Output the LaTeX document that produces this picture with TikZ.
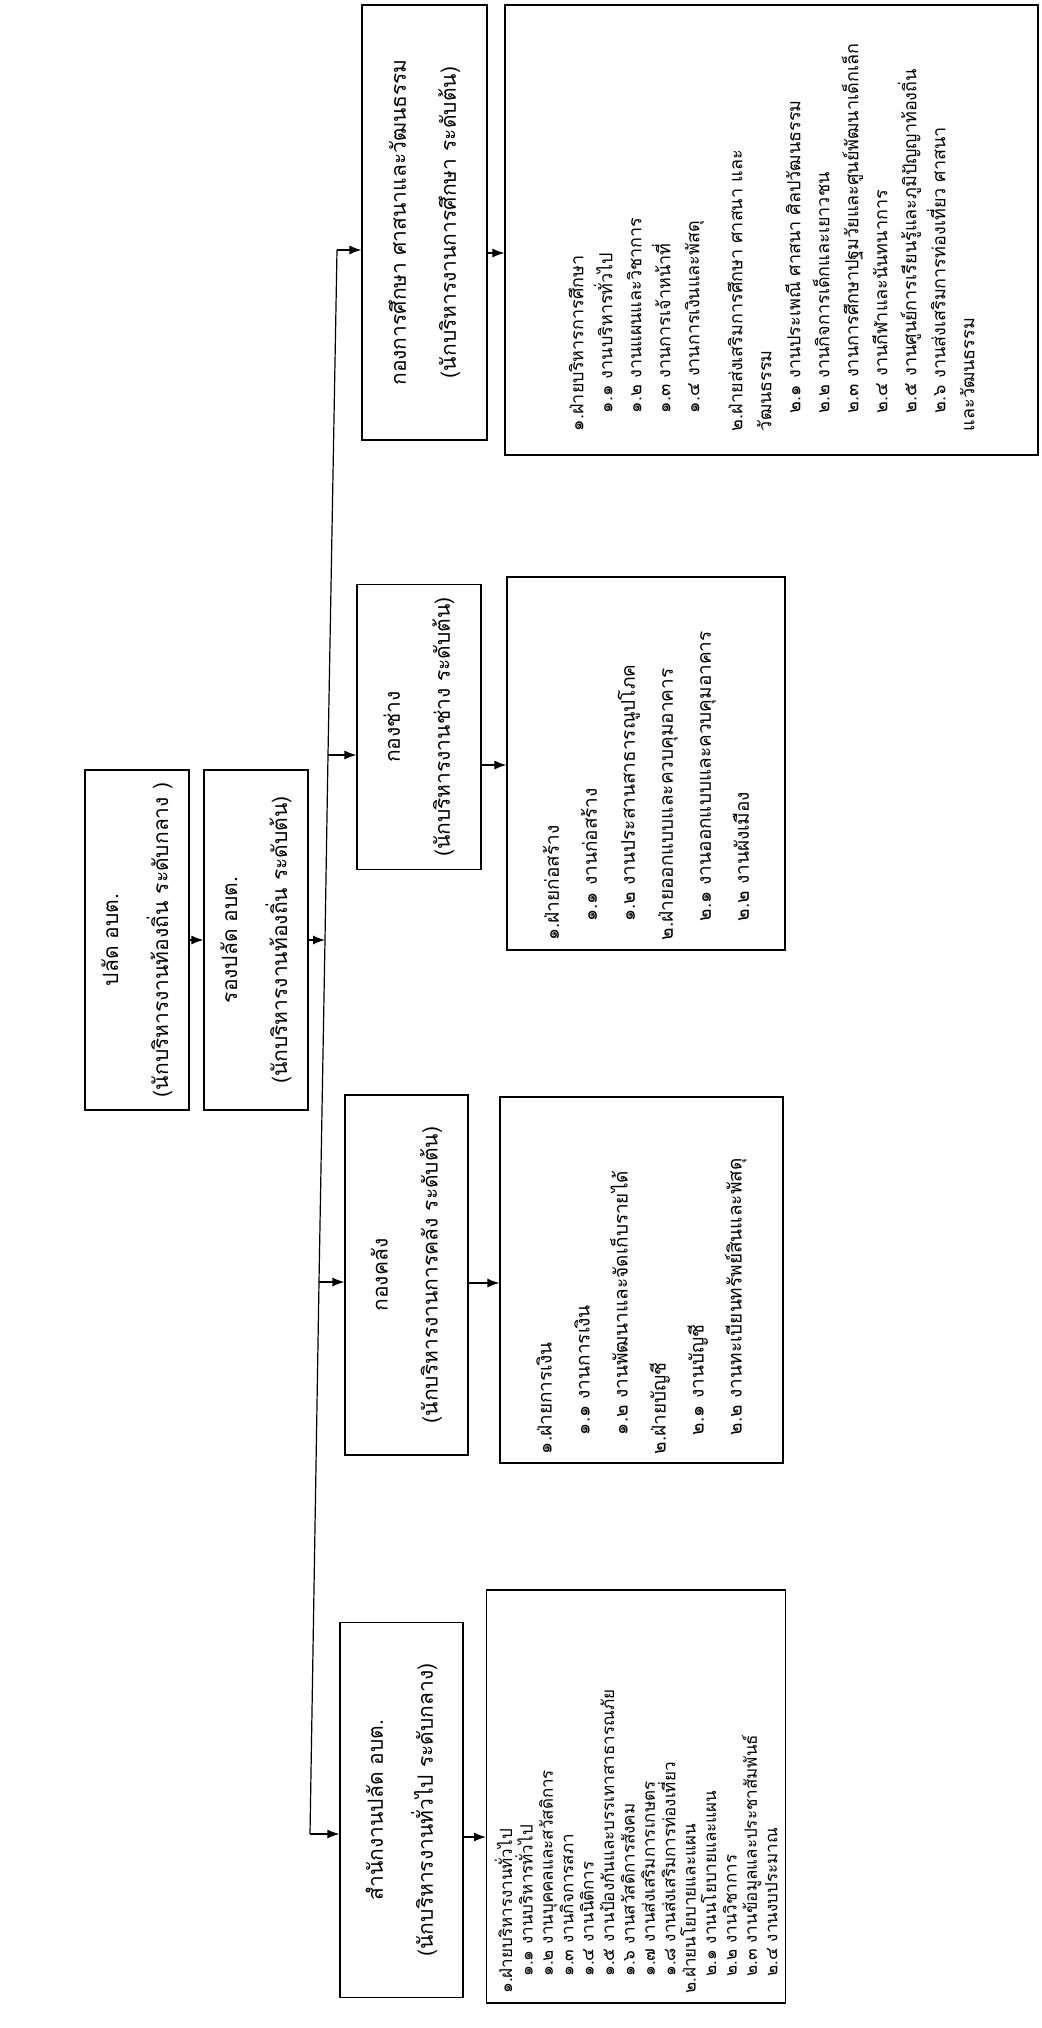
\documentclass[tikz,border=0pt]{standalone}
\usepackage{fontspec}
\setmainfont[Script=Thai]{Loma}
\usetikzlibrary{arrows.meta}
\begin{document}
\begin{tikzpicture}[x=0.5pt,y=-0.5pt,
  box/.style={draw, line width=0.6pt, rotate=90, inner sep=2pt, align=center,
    font=\fontsize{10.5}{25}\selectfont},
  lst/.style={draw, line width=0.6pt, rotate=90, inner sep=4pt, align=left},
  arr/.style={-{Latex[length=6pt,width=4.5pt]}, line width=0.6pt}]
\useasboundingbox (0,0) rectangle (1042,2028);
\fill[white] (0,0) rectangle (1042,2028);

% top level
\node[box, minimum width=170pt, minimum height=52pt] (pl) at (137,940)
  {ปลัด อบต.\\(นักบริหารงานท้องถิ่น ระดับกลาง )};
\node[box, minimum width=170pt, minimum height=52pt] (rpl) at (256,940)
  {รองปลัด อบต.\\(นักบริหารงานท้องถิ่น ระดับต้น)};

% departments
\node[box, minimum width=217.5pt, minimum height=62.5pt] (edu) at (424.5,222.5)
  {กองการศึกษา ศาสนาและวัฒนธรรม\\(นักบริหารงานการศึกษา ระดับต้น)};
\node[box, minimum width=142.5pt, minimum height=62pt] (eng) at (419,727)
  {กองช่าง\\(นักบริหารงานช่าง ระดับต้น)};
\node[box, minimum width=180pt, minimum height=61.5pt] (fin) at (406.5,1275)
  {กองคลัง\\(นักบริหารงานการคลัง ระดับต้น)};
\node[box, minimum width=187.5pt, minimum height=61.5pt] (off) at (401.5,1810)
  {สำนักงานปลัด อบต.\\(นักบริหารงานทั่วไป ระดับกลาง)};

% detail lists
\node[lst, minimum width=225pt, minimum height=266.5pt, text width=201pt,
  inner xsep=12pt, font=\fontsize{9}{14.5}\selectfont] (eduL) at (771.5,230)
  {๑.ฝ่ายบริหารการศึกษา\\
   \quad ๑.๑ งานบริหารทั่วไป\\
   \quad ๑.๒ งานแผนและวิชาการ\\
   \quad ๑.๓ งานการเจ้าหน้าที่\\
   \quad ๑.๔ งานการเงินและพัสดุ\\[7pt]
   ๒.ฝ่ายส่งเสริมการศึกษา ศาสนา และ\\
   วัฒนธรรม\\
   \quad ๒.๑ งานประเพณี ศาสนา ศิลปวัฒนธรรม\\
   \quad ๒.๒ งานกิจการเด็กและเยาวชน\\
   \quad ๒.๓ งานการศึกษาปฐมวัยและศูนย์พัฒนาเด็กเล็ก\\
   \quad ๒.๔ งานกีฬาและนันทนาการ\\
   \quad ๒.๕ งานศูนย์การเรียนรู้และภูมิปัญญาท้องถิ่น\\
   \quad ๒.๖ งานส่งเสริมการท่องเที่ยว ศาสนา\\
   และวัฒนธรรม};
\node[lst, minimum width=186.5pt, minimum height=139pt, text width=177pt,
  font=\fontsize{9.5}{19}\selectfont] (engL) at (646,763.5)
  {๑.ฝ่ายก่อสร้าง\\
   \quad ๑.๑ งานก่อสร้าง\\
   \quad ๑.๒ งานประสานสาธารณูปโภค\\
   ๒.ฝ่ายออกแบบและควบคุมอาคาร\\
   \quad ๒.๑ งานออกแบบและควบคุมอาคาร\\
   \quad ๒.๒ งานผังเมือง};
\node[lst, minimum width=183pt, minimum height=141.5pt, text width=174pt,
  font=\fontsize{9.5}{19}\selectfont] (finL) at (641.5,1280)
  {๑.ฝ่ายการเงิน\\
   \quad ๑.๑ งานการเงิน\\
   \quad ๑.๒ งานพัฒนาและจัดเก็บรายได้\\
   ๒.ฝ่ายบัญชี\\
   \quad ๒.๑ งานบัญชี\\
   \quad ๒.๒ งานทะเบียนทรัพย์สินและพัสดุ};
\node[lst, minimum width=206.5pt, minimum height=149pt, text width=197pt,
  font=\fontsize{8.5}{10.2}\selectfont] (offL) at (636,1796.5)
  {๑.ฝ่ายบริหารงานทั่วไป\\
   \quad ๑.๑ งานบริหารทั่วไป\\
   \quad ๑.๒ งานบุคคลและสวัสดิการ\\
   \quad ๑.๓ งานกิจการสภา\\
   \quad ๑.๔ งานนิติการ\\
   \quad ๑.๕ งานป้องกันและบรรเทาสาธารณภัย\\
   \quad ๑.๖ งานสวัสดิการสังคม\\
   \quad ๑.๗ งานส่งเสริมการเกษตร\\
   \quad ๑.๘ งานส่งเสริมการท่องเที่ยว\\
   ๒.ฝ่ายนโยบายและแผน\\
   \quad ๒.๑ งานนโยบายและแผน\\
   \quad ๒.๒ งานวิชาการ\\
   \quad ๒.๓ งานข้อมูลและประชาสัมพันธ์\\
   \quad ๒.๔ งานงบประมาณ};

% bus (slightly skewed like the scan)
\coordinate (bA) at (337,250);
\coordinate (bB) at (328,755);
\coordinate (bR) at (325,940);
\coordinate (bC) at (319,1282);
\coordinate (bD) at (310,1834);
\draw[line width=0.6pt] (bA) -- (bB) -- (bR) -- (bC) -- (bD);
\draw[arr] (pl) -- (rpl);
\draw[arr] (rpl.south) -- (bR);
\draw[arr] (bA) -- (bA -| edu.north);
\draw[arr] (bB) -- (bB -| eng.north);
\draw[arr] (bC) -- (bC -| fin.north);
\draw[arr] (bD) -- (bD -| off.north);
\draw[arr] (edu.south |- 0,253) coordinate (e1) -- (e1 -| eduL.north);
\draw[arr] (eng.south |- 0,765) coordinate (e2) -- (e2 -| engL.north);
\draw[arr] (fin.south |- 0,1283) coordinate (e3) -- (e3 -| finL.north);
\draw[arr] (off.south |- 0,1837) coordinate (e4) -- (e4 -| offL.north);
\end{tikzpicture}
\end{document}
